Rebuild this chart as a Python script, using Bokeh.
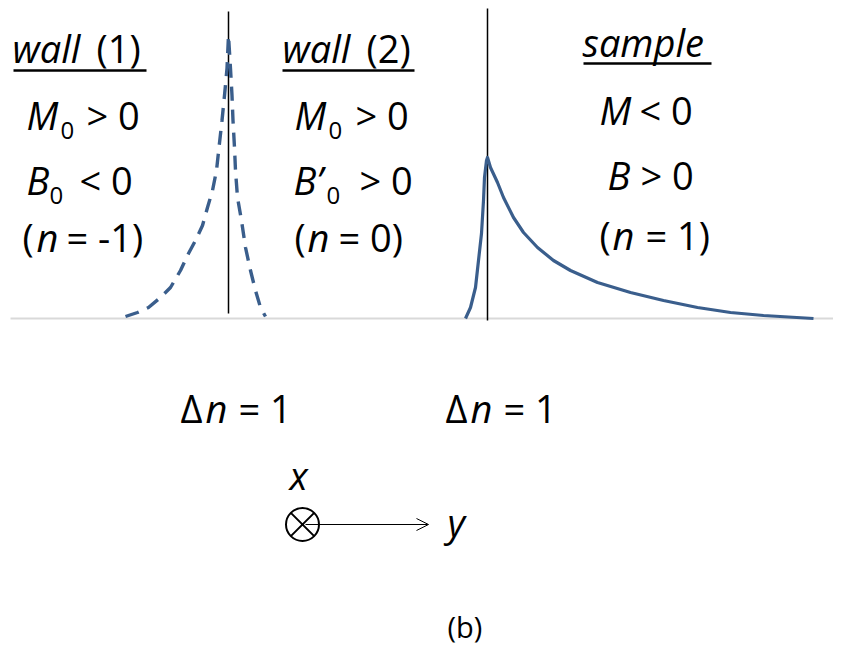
from bokeh.plotting import figure
from bokeh.models import Range1d, Arrow, OpenHead
from bokeh.core.properties import value
from bokeh.embed import file_html
from bokeh.resources import INLINE

# ---------------- data (diagram units: x = position, h = field height above baseline)
BASE = 318  # baseline row in picture coordinates

# domain-wall field profile (dashed)
wall_x = [125, 137, 148, 160, 170, 180, 188, 195, 202, 207, 212, 216, 218.5, 221.5, 224, 226.5, 228,
          230, 231.5, 232.5, 234, 235, 237, 241, 245, 250, 255, 260, 265]
wall_h = [2, 6, 11, 21, 31, 48, 65, 78, 93, 111, 128, 148, 171, 198, 223, 250, 283,
          250, 223, 198, 171, 148, 121, 98, 71, 48, 28, 11, 2]

# sample field profile (solid)
samp_x = [465, 470, 475, 478, 481, 483, 484, 486, 487, 490, 497, 503, 513, 523, 537,
          553, 570, 597, 630, 663, 697, 730, 763, 813]
samp_h = [0, 11, 31, 58, 85, 118, 141, 158, 161, 151, 136, 121, 101, 86, 71,
          58, 48, 36, 26, 18, 11, 6, 3, 0]

# vertical reference lines (wall centre and sample surface)
vline_x = [228, 487]
vline_top = [307, 310]
vline_bot = [5, -2]

FONT = "Open Sans"
FS = 38
SUB = 24

W, H = 833, 647
p = figure(width=W, height=H, output_backend="svg", toolbar_location=None,
           x_range=Range1d(0, W), y_range=Range1d(BASE - H, BASE),
           min_border=0, outline_line_color=None)
p.axis.visible = False
p.grid.visible = False
p.background_fill_color = "white"
p.border_fill_color = "white"

# baseline
p.segment(x0=[10], y0=[0], x1=[849], y1=[0], line_color="#d9d9d9", line_width=2)

# vertical lines
p.segment(x0=vline_x, y0=vline_bot, x1=vline_x, y1=vline_top, line_color="black", line_width=1.5)

# curves
p.line(wall_x, wall_h, line_color="#3a5e8c", line_width=3.4, line_dash="14 9")
p.line(samp_x, samp_h, line_color="#3a5e8c", line_width=3.2, line_join="round")


def txt(x, y_img, s, size=FS, style="normal"):
    # empirical correction of the rendered baseline
    y_corr = y_img - 0.4 * size
    p.text(x=[x], y=[BASE - y_corr], text=[s], text_font=value(FONT),
           text_font_size=f"{size}px", text_font_style=style, text_color="black",
           text_baseline="alphabetic", text_align="left")


def underline(x0, x1, y_img):
    p.segment(x0=[x0], y0=[BASE - y_img], x1=[x1], y1=[BASE - y_img],
              line_color="black", line_width=2.5)


# column 1: wall (1)
txt(12, 63, "wall", style="italic")
txt(96, 63, "(1)")
underline(13, 146, 70)
txt(26, 130, "M", style="italic")
txt(60, 140, "0", size=SUB)
txt(86, 130, "> 0")
txt(26, 195, "B", style="italic")
txt(49, 205, "0", size=SUB)
txt(79, 195, "< 0")
txt(22, 252, "(")
txt(36, 252, "n", style="italic")
txt(66, 252, "= -1)")

# column 2: wall (2)
txt(282, 63, "wall", style="italic")
txt(366, 63, "(2)")
underline(282, 414, 70)
txt(294, 130, "M", style="italic")
txt(328, 140, "0", size=SUB)
txt(355, 130, "> 0")
txt(293, 195, "B\u2019", style="italic")
txt(326, 205, "0", size=SUB)
txt(359, 195, "> 0")
txt(294, 252, "(")
txt(307, 252, "n", style="italic")
txt(338, 252, "= 0)")

# column 3: sample
txt(582, 57, "sample", style="italic")
underline(583, 711, 63)
txt(599, 125, "M", style="italic")
txt(639, 125, "< 0")
txt(607, 190, "B", style="italic")
txt(640, 190, "> 0")
txt(599, 250, "(")
txt(612, 250, "n", style="italic")
txt(645, 250, "= 1)")

# delta n labels
for x0 in (180, 445):
    txt(x0, 423, "\u0394")
    txt(x0 + 25, 423, "n", style="italic")
    txt(x0 + 58, 423, "= 1")

# coordinate axes symbol
txt(289, 490, "x", style="italic")
p.scatter(x=[302], y=[BASE - 524], marker="circle_x", size=33, fill_color=None,
          line_color="black", line_width=2)
p.add_layout(Arrow(end=OpenHead(size=12, line_width=1, line_color="black"),
                   x_start=305, y_start=BASE - 524, x_end=428, y_end=BASE - 524,
                   line_width=1, line_color="black"))
txt(447, 537, "y", style="italic")

# caption
txt(447, 638, "(b)", size=29)

open("out.html", "w").write(file_html(p, INLINE))
